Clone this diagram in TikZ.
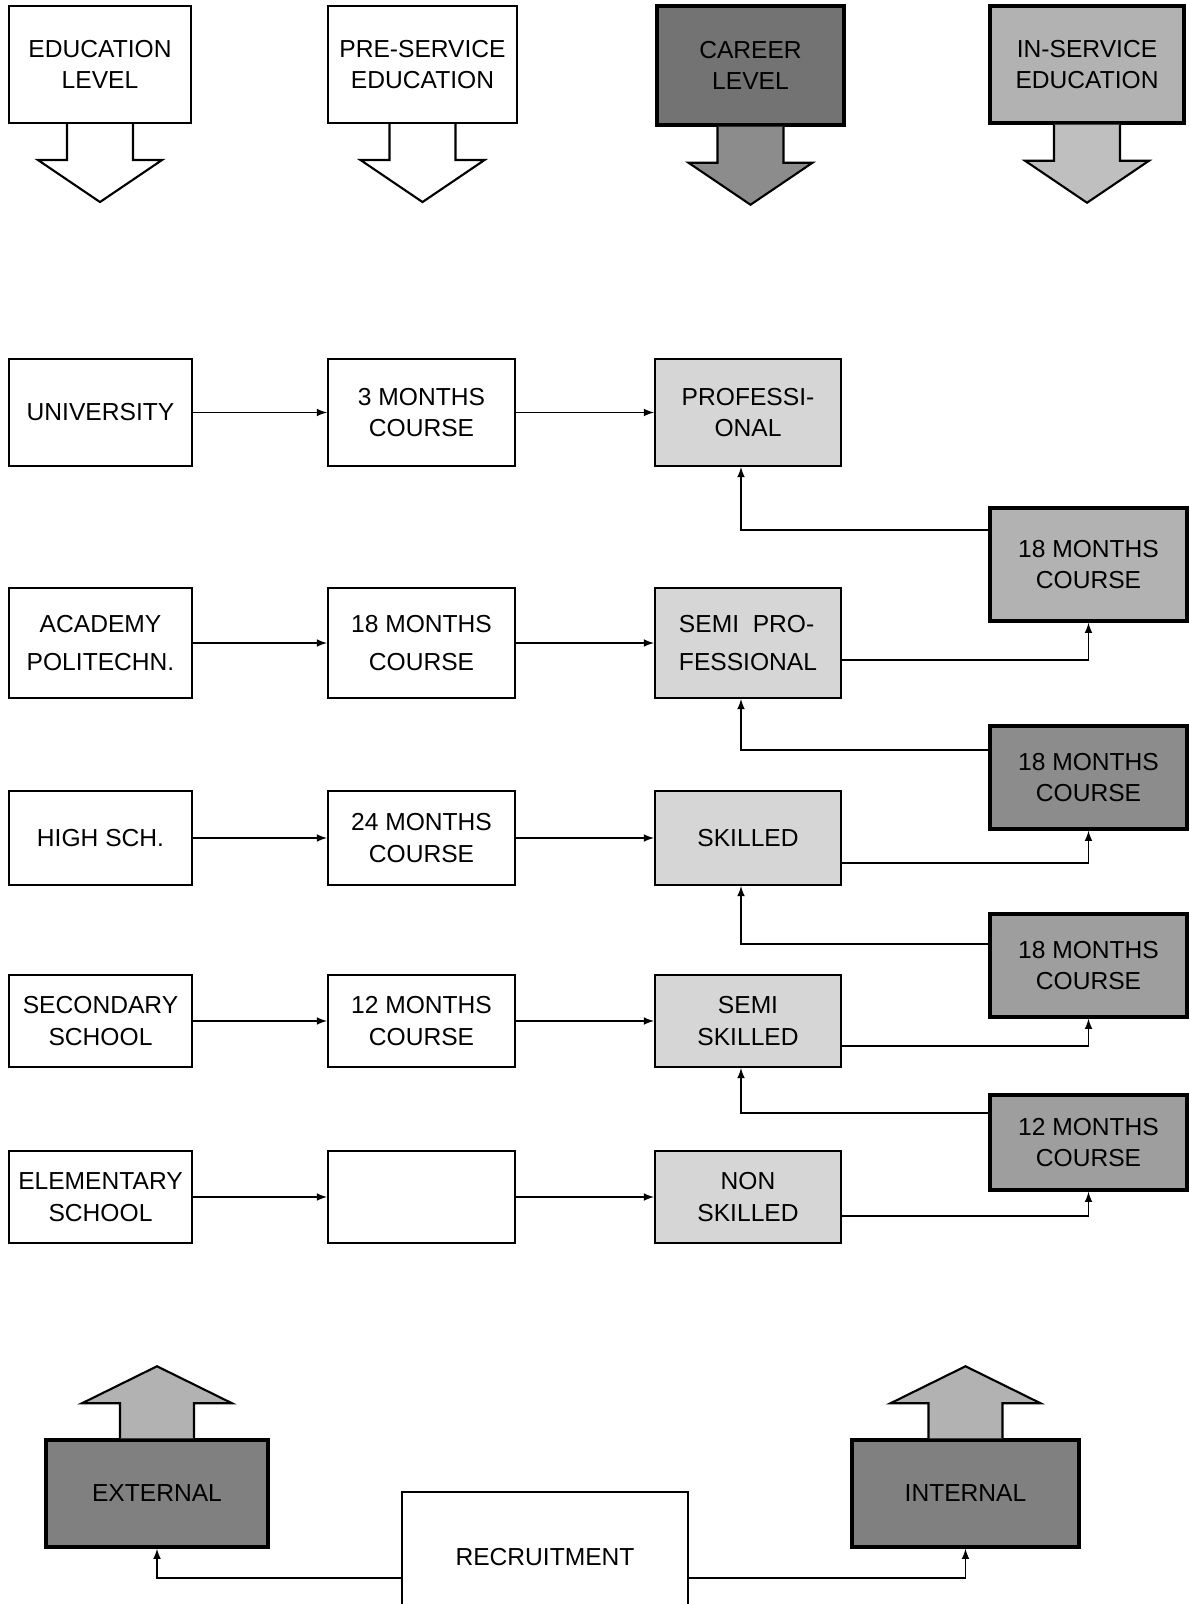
\documentclass[tikz,border=0pt]{standalone}
\usepackage{fontspec}
\setmainfont{Liberation Sans}
\usetikzlibrary{positioning}

\begin{document}
\begin{tikzpicture}[x=0.02cm, y=-0.02cm,
    box/.style={draw, line width=1.2pt, align=center, inner sep=2pt, font=\fontsize{14}{18}\selectfont},
    edubox/.style={box, minimum width=3.66cm},
    prebox/.style={box, minimum width=3.74cm},
    levbox/.style={box, fill=black!16, minimum width=3.72cm},
    insbox/.style={box, line width=2pt, minimum width=3.94cm},
    conn/.style={-latex, line width=1pt}]
    \useasboundingbox (0,0) rectangle (1189,1604);

    % headings
    \node[box, minimum width=3.64cm, minimum height=2.34cm] (edu) at (100,64.5) {EDUCATION\\LEVEL};
    \node[box, minimum width=3.78cm, minimum height=2.34cm] (pre) at (422.5,64.5) {PRE-SERVICE\\EDUCATION};
    \node[box, line width=2pt, fill=black!55, minimum width=3.74cm, minimum height=2.38cm] (car) at (750.5,65.5) {CAREER\\LEVEL};
    \node[box, line width=2pt, fill=black!30, minimum width=3.88cm, minimum height=2.34cm] (ins) at (1087,64.5) {IN-SERVICE\\EDUCATION};

    \foreach \n/\col in {edu/white, pre/white, car/black!45, ins/black!25}
        \draw[line width=1.2pt, fill=\col] (\n.south) ++(-33,0) -- ++(0,36) -- ++(-29,0) -- ++(62,42) -- ++(62,-42) -- ++(-29,0) -- ++(0,-36);

    % rows
    \node[edubox, minimum height=2.14cm] (uni) at (100.5,412.5) {UNIVERSITY};
    \node[prebox, minimum height=2.14cm] (c3) at (421.5,412.5) {3 MONTHS\\COURSE};
    \node[levbox, minimum height=2.14cm] (prof) at (748,412.5) {PROFESSI-\\ONAL};

    \node[edubox, minimum height=2.2cm, font=\fontsize{14}{22}\selectfont] (acad) at (100.5,643) {ACADEMY\\POLITECHN.};
    \node[prebox, minimum height=2.2cm, font=\fontsize{14}{22}\selectfont] (c18) at (421.5,643) {18 MONTHS\\COURSE};
    \node[levbox, minimum height=2.2cm, font=\fontsize{14}{22}\selectfont, align=left] (semip) at (748,643) {SEMI \ PRO-\\FESSIONAL};

    \node[edubox, minimum height=1.88cm] (high) at (100.5,838) {HIGH SCH.};
    \node[prebox, minimum height=1.88cm] (c24) at (421.5,838) {24 MONTHS\\COURSE};
    \node[levbox, minimum height=1.88cm] (skil) at (748,838) {SKILLED};

    \node[edubox, minimum height=1.84cm] (sec) at (100.5,1021) {SECONDARY\\SCHOOL};
    \node[prebox, minimum height=1.84cm] (c12) at (421.5,1021) {12 MONTHS\\COURSE};
    \node[levbox, minimum height=1.84cm] (semis) at (748,1021) {SEMI\\SKILLED};

    \node[edubox, minimum height=1.84cm] (elem) at (100.5,1197) {ELEMENTARY\\SCHOOL};
    \node[prebox, minimum height=1.84cm] (cx) at (421.5,1197) {};
    \node[levbox, minimum height=1.84cm] (non) at (748,1197) {NON\\SKILLED};

    % in-service courses
    \node[insbox, fill=black!30, minimum height=2.26cm] (is1) at (1088.5,564.5) {18 MONTHS\\COURSE};
    \node[insbox, fill=black!45, minimum height=2.06cm] (is2) at (1088.5,777.5) {18 MONTHS\\COURSE};
    \node[insbox, fill=black!38, minimum height=2.06cm] (is3) at (1088.5,965.5) {18 MONTHS\\COURSE};
    \node[insbox, fill=black!38, minimum height=1.9cm] (is4) at (1088.5,1142.5) {12 MONTHS\\COURSE};

    \path[conn] (uni) edge (c3) (c3) edge (prof);
    \path[conn] (acad) edge (c18) (c18) edge (semip);
    \path[conn] (high) edge (c24) (c24) edge (skil);
    \path[conn] (sec) edge (c12) (c12) edge (semis);
    \path[conn] (elem) edge (cx) (cx) edge (non);

    \draw[conn] ([yshift=-0.34cm]semip.east) -| (is1.south);
    \draw[conn] ([yshift=-0.5cm]skil.east) -| (is2.south);
    \draw[conn] ([yshift=-0.5cm]semis.east) -| (is3.south);
    \draw[conn] ([yshift=-0.38cm]non.east) -| (is4.south);
    \draw[conn] ([yshift=0.69cm]is1.west) -| ([xshift=-0.14cm]prof.south);
    \draw[conn] ([yshift=0.55cm]is2.west) -| ([xshift=-0.14cm]semip.south);
    \draw[conn] ([yshift=0.43cm]is3.west) -| ([xshift=-0.14cm]skil.south);
    \draw[conn] ([yshift=0.59cm]is4.west) -| ([xshift=-0.14cm]semis.south);

    % recruitment
    \node[box, line width=2pt, fill=black!50, minimum width=4.44cm, minimum height=2.14cm] (ext) at (157,1493.5) {EXTERNAL};
    \node[box, line width=2pt, fill=black!50, minimum width=4.54cm, minimum height=2.14cm] (int) at (965.5,1493.5) {INTERNAL};
    \node[box, minimum width=5.72cm, minimum height=2.6cm] (rec) at (545,1557) {RECRUITMENT};

    \foreach \n in {ext, int}
        \draw[line width=1.2pt, fill=black!30] (\n.north) ++(-37,0) -- ++(0,-35) -- ++(-38,0) -- ++(75,-37) -- ++(75,37) -- ++(-38,0) -- ++(0,35);

    \draw[conn] ([yshift=-0.42cm]rec.west) -| (ext.south);
    \draw[conn] ([yshift=-0.42cm]rec.east) -| (int.south);
\end{tikzpicture}
\end{document}
